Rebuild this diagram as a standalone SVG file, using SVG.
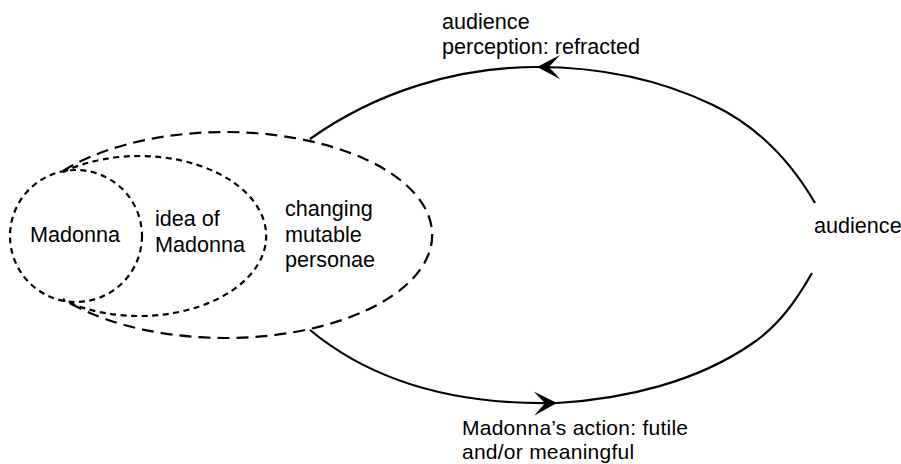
<svg xmlns="http://www.w3.org/2000/svg" width="901" height="464" viewBox="0 0 901 464">
  <style>
    text { font-family: "Liberation Sans", Arial, Helvetica, sans-serif; font-size: 21.6px; fill: #000; }
    .bottom-label { font-size: 21px; }
    .short { fill: none; stroke: #000; stroke-width: 2.2; stroke-dasharray: 6 4.5; }
    .long { fill: none; stroke: #000; stroke-width: 2.2; stroke-dasharray: 12 7; }
    .loop { fill: none; stroke: #000; stroke-width: 2.2; }
  </style>
  <defs>
    <marker id="arrow" markerUnits="userSpaceOnUse" markerWidth="30" markerHeight="30" viewBox="-26 -14 30 28" refX="0" refY="0" orient="auto">
      <path d="M0,0 L-23,-12 L-12,0 L-23,12 Z" fill="#000"/>
    </marker>
  </defs>
  <rect width="901" height="464" fill="#fff"/>

  <!-- outer shell: changing, mutable personae -->
  <g id="personae">
    <path class="long" d="M63,171 A207,103 0 1,1 63,299"/>
    <text x="285" y="216">changing</text>
    <text x="285" y="242">mutable</text>
    <text x="285" y="267">personae</text>
  </g>

  <!-- middle shell: idea of Madonna -->
  <g id="idea">
    <path class="short" d="M63,172 A127,80 0 1,1 63,300"/>
    <text x="155" y="226">idea of</text>
    <text x="155" y="252">Madonna</text>
  </g>

  <!-- core: Madonna -->
  <g id="madonna">
    <circle class="short" cx="76" cy="236" r="66"/>
    <text x="30" y="242">Madonna</text>
  </g>

  <!-- audience -->
  <g id="audience">
    <text x="814" y="233">audience</text>
  </g>

  <!-- feedback loop between persona and audience -->
  <g id="connectors">
    <path class="loop" marker-end="url(#arrow)" d="M815,203 C790,160 758,126.5 713,105 C659,79 597,67 537,67"/>
    <path class="loop" d="M537,67 C457,67 376,92 310,139"/>
    <path class="loop" marker-end="url(#arrow)" d="M310,330 C380,388 470,405 557,403"/>
    <path class="loop" d="M557,403 C625,399 697,382 753,343 C779,325 796,301 812,273"/>
  </g>

  <g id="connector-labels">
    <text x="442" y="29">audience</text>
    <text x="442" y="54">perception: refracted</text>
    <text class="bottom-label" x="462" y="435" letter-spacing="0.25">Madonna’s action: futile</text>
    <text class="bottom-label" x="462" y="459" letter-spacing="0.25">and/or meaningful</text>
  </g>
</svg>
